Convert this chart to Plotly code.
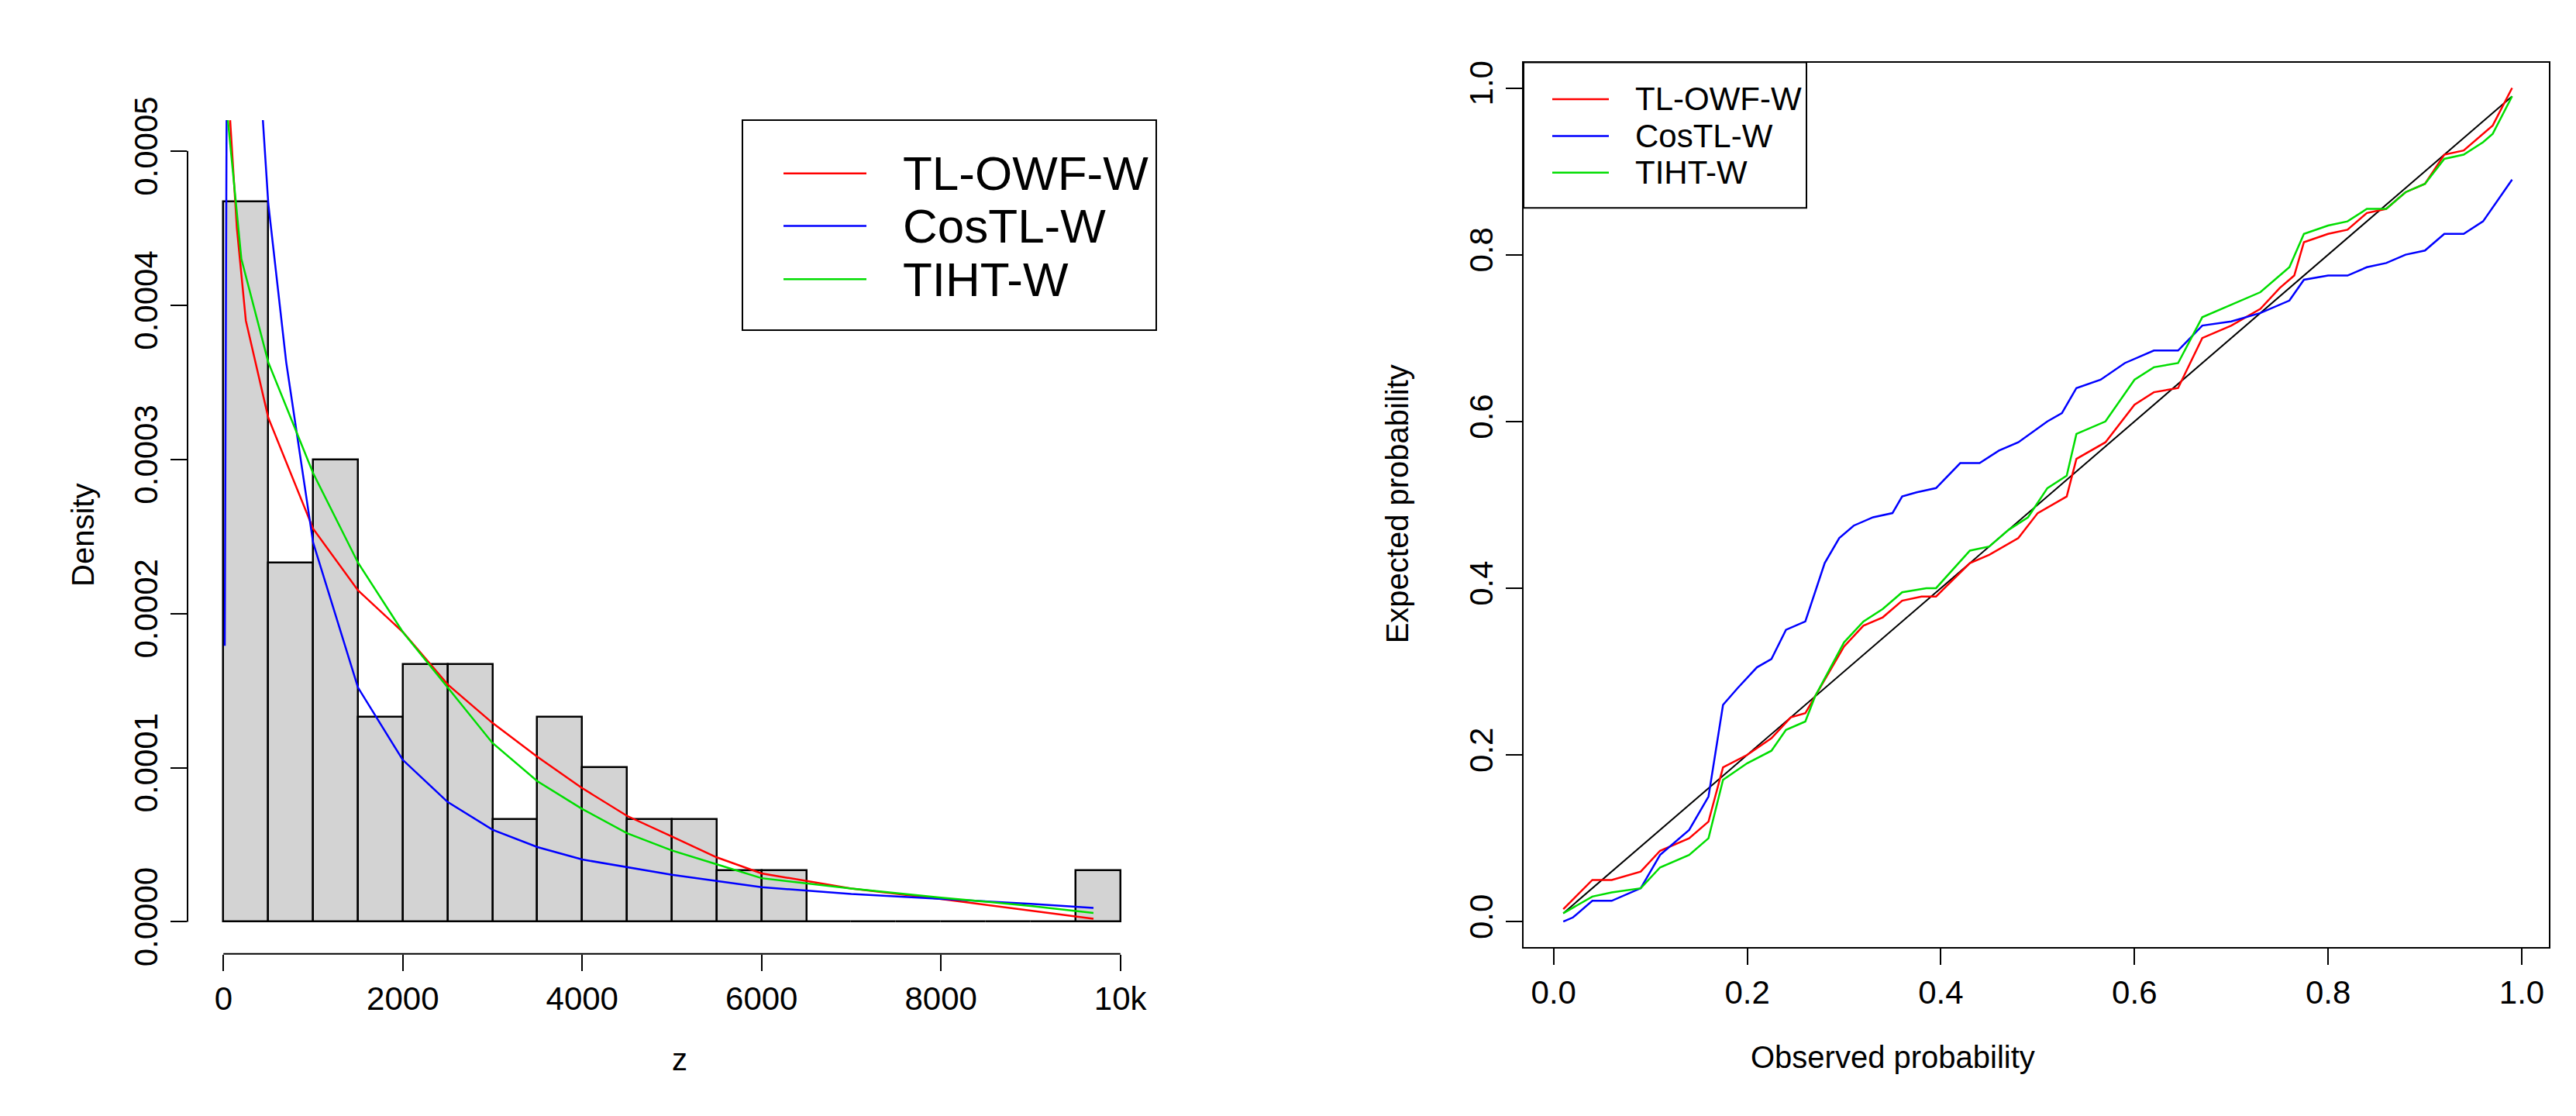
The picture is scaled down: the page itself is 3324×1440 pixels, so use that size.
import plotly.graph_objects as go

# histogram (breaks of 500)
bin_left = [0, 500, 1000, 1500, 2000, 2500, 3000, 3500, 4000, 4500, 5000, 5500, 6000, 6500, 7000, 7500, 8000, 8500, 9000, 9500]
bin_density = [0.000467, 0.000233, 0.0003, 0.000133, 0.000167, 0.000167, 0.0000667, 0.000133, 0.0001,
               0.0000667, 0.0000667, 0.0000333, 0.0000333, 0, 0, 0, 0, 0, 0, 0.0000333]

# fitted densities
red_z = [75, 150, 250, 500, 1000, 1500, 2000, 2500, 3000, 3500, 4000, 4500, 5000, 5500, 6000, 7000, 8000, 9000, 9700]
red_d = [0.00052, 0.00045, 0.00039, 0.000327, 0.000255, 0.000215, 0.000188, 0.000154, 0.000129, 0.000107,
         0.0000867, 0.0000687, 0.0000553, 0.0000418, 0.0000314, 0.0000216, 0.0000148, 0.0000072, 0.000002]
green_z = [50, 200, 500, 1000, 1500, 2000, 2500, 3000, 3500, 4000, 4500, 5000, 5500, 6000, 7000, 8000, 9000, 9700]
green_d = [0.00052, 0.00043, 0.000363, 0.000291, 0.000233, 0.000188, 0.000152, 0.000116, 0.0000912, 0.0000732,
           0.0000575, 0.0000463, 0.0000373, 0.0000283, 0.0000216, 0.0000157, 0.0000103, 0.0000058]
blue_z = [15, 25, 40, 100, 300, 440, 500, 700, 1000, 1500, 2000, 2500, 3000, 3500, 4000, 5000, 6000, 7000, 8000, 9000, 9700]
blue_d = [0.000179, 0.00035, 0.0006, 0.0015, 0.0007, 0.00052, 0.000466, 0.000363, 0.000246, 0.000152, 0.000105,
          0.0000777, 0.0000597, 0.0000485, 0.0000404, 0.0000305, 0.0000225, 0.000018, 0.0000148, 0.0000117, 0.000009]

# P-P plot
red_x = [0.01, 0.04, 0.06, 0.09, 0.11, 0.14, 0.16, 0.175, 0.2, 0.225, 0.245, 0.26, 0.27, 0.30, 0.32, 0.34, 0.36, 0.38, 0.395,
         0.43, 0.45, 0.48, 0.50, 0.53, 0.54, 0.57, 0.60, 0.62, 0.645, 0.67, 0.70, 0.73, 0.75, 0.765, 0.775, 0.80, 0.82,
         0.84, 0.86, 0.88, 0.90, 0.92, 0.94, 0.96, 0.97, 0.99]
red_y = [0.015, 0.05, 0.05, 0.06, 0.085, 0.10, 0.12, 0.185, 0.20, 0.22, 0.245, 0.25, 0.27, 0.33, 0.355, 0.365, 0.385, 0.39, 0.39,
         0.43, 0.44, 0.46, 0.49, 0.51, 0.555, 0.575, 0.62, 0.635, 0.64, 0.70, 0.715, 0.735, 0.76, 0.775, 0.815, 0.825, 0.83,
         0.85, 0.855, 0.875, 0.885, 0.92, 0.925, 0.945, 0.955, 1.0]
green_x = [0.01, 0.04, 0.06, 0.09, 0.11, 0.14, 0.16, 0.175, 0.2, 0.225, 0.24, 0.26, 0.27, 0.30, 0.32, 0.34, 0.36, 0.385, 0.395,
           0.43, 0.45, 0.47, 0.49, 0.51, 0.53, 0.54, 0.57, 0.60, 0.62, 0.645, 0.67, 0.70, 0.73, 0.76, 0.775, 0.80, 0.82,
           0.84, 0.86, 0.88, 0.90, 0.92, 0.94, 0.96, 0.97, 0.99]
green_y = [0.01, 0.03, 0.035, 0.04, 0.065, 0.08, 0.10, 0.17, 0.19, 0.205, 0.23, 0.24, 0.27, 0.335, 0.36, 0.375, 0.395, 0.40, 0.40,
           0.445, 0.45, 0.47, 0.485, 0.52, 0.535, 0.585, 0.60, 0.65, 0.665, 0.67, 0.725, 0.74, 0.755, 0.785, 0.825, 0.835, 0.84,
           0.855, 0.855, 0.875, 0.885, 0.915, 0.92, 0.935, 0.945, 0.99]
blue_x = [0.01, 0.02, 0.04, 0.06, 0.09, 0.11, 0.14, 0.16, 0.175, 0.19, 0.21, 0.225, 0.24, 0.26, 0.28, 0.295, 0.31, 0.33, 0.35,
          0.36, 0.375, 0.395, 0.42, 0.44, 0.46, 0.48, 0.51, 0.525, 0.54, 0.565, 0.59, 0.62, 0.645, 0.67, 0.70, 0.73, 0.76,
          0.775, 0.80, 0.82, 0.84, 0.86, 0.88, 0.90, 0.92, 0.94, 0.96, 0.99]
blue_y = [0.0, 0.005, 0.025, 0.025, 0.04, 0.08, 0.11, 0.15, 0.26, 0.28, 0.305, 0.315, 0.35, 0.36, 0.43, 0.46, 0.475, 0.485, 0.49,
          0.51, 0.515, 0.52, 0.55, 0.55, 0.565, 0.575, 0.60, 0.61, 0.64, 0.65, 0.67, 0.685, 0.685, 0.715, 0.72, 0.73, 0.745,
          0.77, 0.775, 0.775, 0.785, 0.79, 0.80, 0.805, 0.825, 0.825, 0.84, 0.89]
diag = [0.01, 0.99]

names = ["TL-OWF-W", "CosTL-W", "TIHT-W"]
colors = ["#ff0000", "#0000ff", "#00dd00"]

W, H = 3324, 1440
FONT = "Liberation Sans"
LW = 2.5

fig = go.Figure()
fig.add_trace(go.Bar(x=[b + 250 for b in bin_left], y=bin_density, width=500,
                     marker=dict(color="#d3d3d3", line=dict(color="black", width=2.5)),
                     xaxis="x", yaxis="y"))
for zs, ds, c in [(red_z, red_d, colors[0]), (blue_z, blue_d, colors[1]), (green_z, green_d, colors[2])]:
    fig.add_trace(go.Scatter(x=zs, y=ds, mode="lines", line=dict(color=c, width=LW), xaxis="x", yaxis="y"))

fig.add_trace(go.Scatter(x=diag, y=diag, mode="lines", line=dict(color="black", width=2), xaxis="x2", yaxis="y2"))
for xs, ys, c in [(red_x, red_y, colors[0]), (blue_x, blue_y, colors[1]), (green_x, green_y, colors[2])]:
    fig.add_trace(go.Scatter(x=xs, y=ys, mode="lines", line=dict(color=c, width=LW), xaxis="x2", yaxis="y2"))

tick = dict(ticks="outside", ticklen=21, tickwidth=2, tickcolor="black", showgrid=False, zeroline=False,
            tickfont=dict(family=FONT, size=42, color="black"))

fig.update_layout(
    width=W, height=H, margin=dict(l=0, r=0, t=0, b=0), showlegend=False,
    plot_bgcolor="white", paper_bgcolor="white", bargap=0,
    xaxis=dict(domain=[234 / W, 1484 / W], range=[-400, 10400], tickvals=[0, 2000, 4000, 6000, 8000, 10000],
               showline=False, **tick),
    yaxis=dict(domain=[1 - 1232 / H, 1 - 120 / H], range=[-0.0000208, 0.00052],
               tickvals=[0, 0.0001, 0.0002, 0.0003, 0.0004, 0.0005],
               ticktext=["0.0000", "0.0001", "0.0002", "0.0003", "0.0004", "0.0005"],
               tickangle=-90, showline=False, **tick),
    xaxis2=dict(domain=[1958 / W, 3281 / W], range=[-0.031, 1.028], tickvals=[0, 0.2, 0.4, 0.6, 0.8, 1.0],
                ticktext=["0.0", "0.2", "0.4", "0.6", "0.8", "1.0"], anchor="y2",
                showline=True, linecolor="black", linewidth=2, mirror=True, **tick),
    yaxis2=dict(domain=[1 - 1223 / H, 1 - 43 / H], range=[-0.0306, 1.0306], tickvals=[0, 0.2, 0.4, 0.6, 0.8, 1.0],
                ticktext=["0.0", "0.2", "0.4", "0.6", "0.8", "1.0"], anchor="x2", tickangle=-90,
                showline=True, linecolor="black", linewidth=2, mirror=True, **tick),
)

# R-style axis lines on the histogram panel
fig.add_shape(type="line", xref="x", yref="y domain", x0=0, x1=10000, y0=0, y1=0, line=dict(color="black", width=2))
fig.add_shape(type="line", xref="x domain", yref="y", x0=0, x1=0, y0=0, y1=0.0005, line=dict(color="black", width=2))


def px(x, y):
    return x / W, 1 - y / H


def legend_box(x0, y0, x1, y1, rows, lx0, lx1, tx, size):
    a, b = px(x0, y0)
    c, d = px(x1, y1)
    fig.add_shape(type="rect", xref="paper", yref="paper", x0=a, y0=d, x1=c, y1=b,
                  line=dict(color="black", width=2), fillcolor="white", layer="above")
    for (ly, name, col) in rows:
        p, q = px(lx0, ly)
        r, _ = px(lx1, ly)
        fig.add_shape(type="line", xref="paper", yref="paper", x0=p, x1=r, y0=q, y1=q,
                      line=dict(color=col, width=LW), layer="above")
        t, _ = px(tx, ly)
        fig.add_annotation(xref="paper", yref="paper", x=t, y=q, text=name, showarrow=False,
                           xanchor="left", yanchor="middle", font=dict(family=FONT, size=size, color="black"))


legend_box(950, 120, 1484, 400, list(zip([191, 261, 332], names, colors)), 1003, 1110, 1155, 62)
legend_box(1958, 43, 2323, 237, list(zip([92, 141, 190], names, colors)), 1995, 2068, 2100, 42)

# axis titles
title_font = dict(family=FONT, size=40, color="black")
fig.add_annotation(xref="paper", yref="paper", x=75 / W, y=1 - 674 / H, text="Density", textangle=-90,
                   showarrow=False, font=title_font)
fig.add_annotation(xref="paper", yref="paper", x=857 / W, y=1 - 1398 / H, text="z", showarrow=False, font=title_font)
fig.add_annotation(xref="paper", yref="paper", x=1795 / W, y=1 - 632 / H, text="Expected probability", textangle=-90,
                   showarrow=False, font=title_font)
fig.add_annotation(xref="paper", yref="paper", x=2620 / W, y=1 - 1394 / H, text="Observed probability",
                   showarrow=False, font=title_font)

fig.write_html("out.html")
